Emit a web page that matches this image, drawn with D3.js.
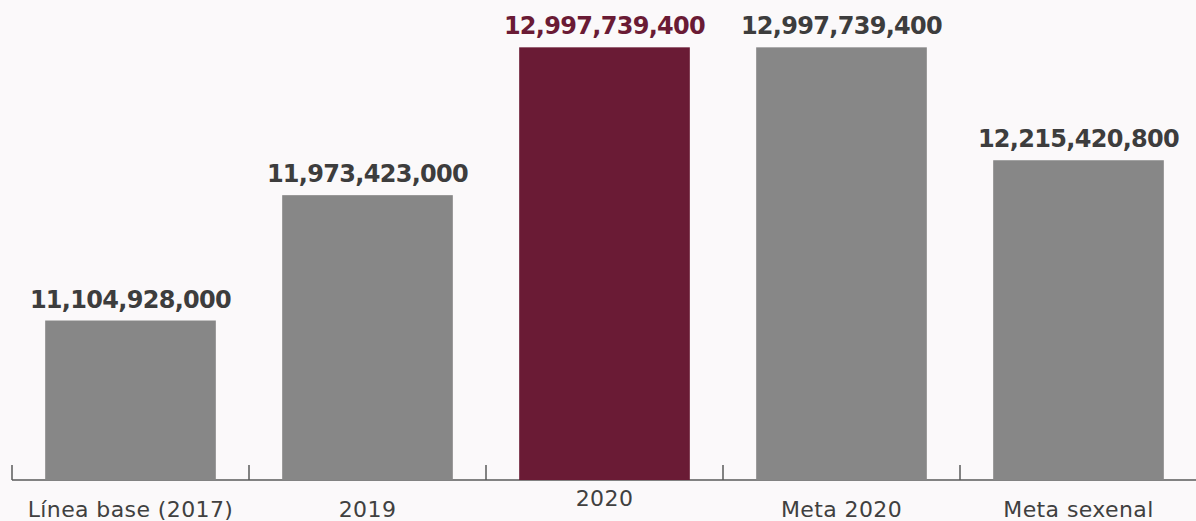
<!DOCTYPE html>
<html>
<head>
<meta charset="utf-8">
<script src="https://cdn.jsdelivr.net/npm/d3@7"></script>
<style>
  html, body { margin: 0; padding: 0; background: #fbf9fa; }
  svg { display: block; }
</style>
</head>
<body>
<div id="chart"></div>
<script>
// Data
var categories = ["Línea base (2017)", "2019", "2020", "Meta 2020", "Meta sexenal"];
var values = [11104928000, 11973423000, 12997739400, 12997739400, 12215420800];
var highlight = "2020";

var width = 1196;
var height = 521;
var axisY = 480;

var svg = d3.select("#chart")
  .append("svg")
  .attr("width", width)
  .attr("height", height);

svg.append("rect")
  .attr("width", width)
  .attr("height", height)
  .attr("fill", "#fbf9fa");

var x = d3.scaleBand()
  .domain(categories)
  .range([12, 1197])
  .padding(0);

var y = d3.scaleLinear()
  .domain([10e9, 13e9])
  .range([axisY, 47]);

var barW = x.bandwidth() * 0.72;
var fmt = d3.format(",");

// axis baseline + ticks at band edges
var axis = svg.append("g").attr("class", "axis");
axis.append("line")
  .attr("x1", x.range()[0])
  .attr("x2", x.range()[1])
  .attr("y1", axisY)
  .attr("y2", axisY)
  .attr("stroke", "#5a5a5a")
  .attr("stroke-width", 1.5);

axis.selectAll(".tick")
  .data(categories)
  .enter()
  .append("line")
  .attr("class", "tick")
  .attr("x1", function(d) { return x(d); })
  .attr("x2", function(d) { return x(d); })
  .attr("y1", axisY)
  .attr("y2", axisY - 15)
  .attr("stroke", "#5a5a5a")
  .attr("stroke-width", 1.5);

// bars
svg.selectAll(".bar")
  .data(categories)
  .enter()
  .append("rect")
  .attr("class", "bar")
  .attr("x", function(d) { return x(d) + (x.bandwidth() - barW) / 2; })
  .attr("width", barW)
  .attr("y", function(d, i) { return y(values[i]); })
  .attr("height", function(d, i) { return axisY - y(values[i]); })
  .attr("fill", function(d) { return d === highlight ? "#6a1b35" : "#878787"; });

// value labels
svg.selectAll(".val")
  .data(categories)
  .enter()
  .append("text")
  .attr("class", "val")
  .attr("x", function(d) { return x(d) + x.bandwidth() / 2; })
  .attr("y", function(d, i) { return y(values[i]) - 13; })
  .attr("text-anchor", "middle")
  .style("font-family", "'DejaVu Sans', sans-serif")
  .style("font-weight", "bold")
  .style("font-size", "24px")
  .style("letter-spacing", "-0.7px")
  .attr("fill", function(d) { return d === highlight ? "#6a1b35" : "#3d3d3d"; })
  .text(function(d, i) { return fmt(values[i]); });

// category labels
svg.selectAll(".cat")
  .data(categories)
  .enter()
  .append("text")
  .attr("class", "cat")
  .attr("x", function(d) { return x(d) + x.bandwidth() / 2; })
  .attr("y", function(d) { return d === highlight ? 506 : 517; })
  .attr("text-anchor", "middle")
  .style("font-family", "'DejaVu Sans', sans-serif")
  .style("font-size", "22px")
  .style("letter-spacing", "0.4px")
  .attr("fill", "#404040")
  .text(function(d) { return d; });
</script>
</body>
</html>
